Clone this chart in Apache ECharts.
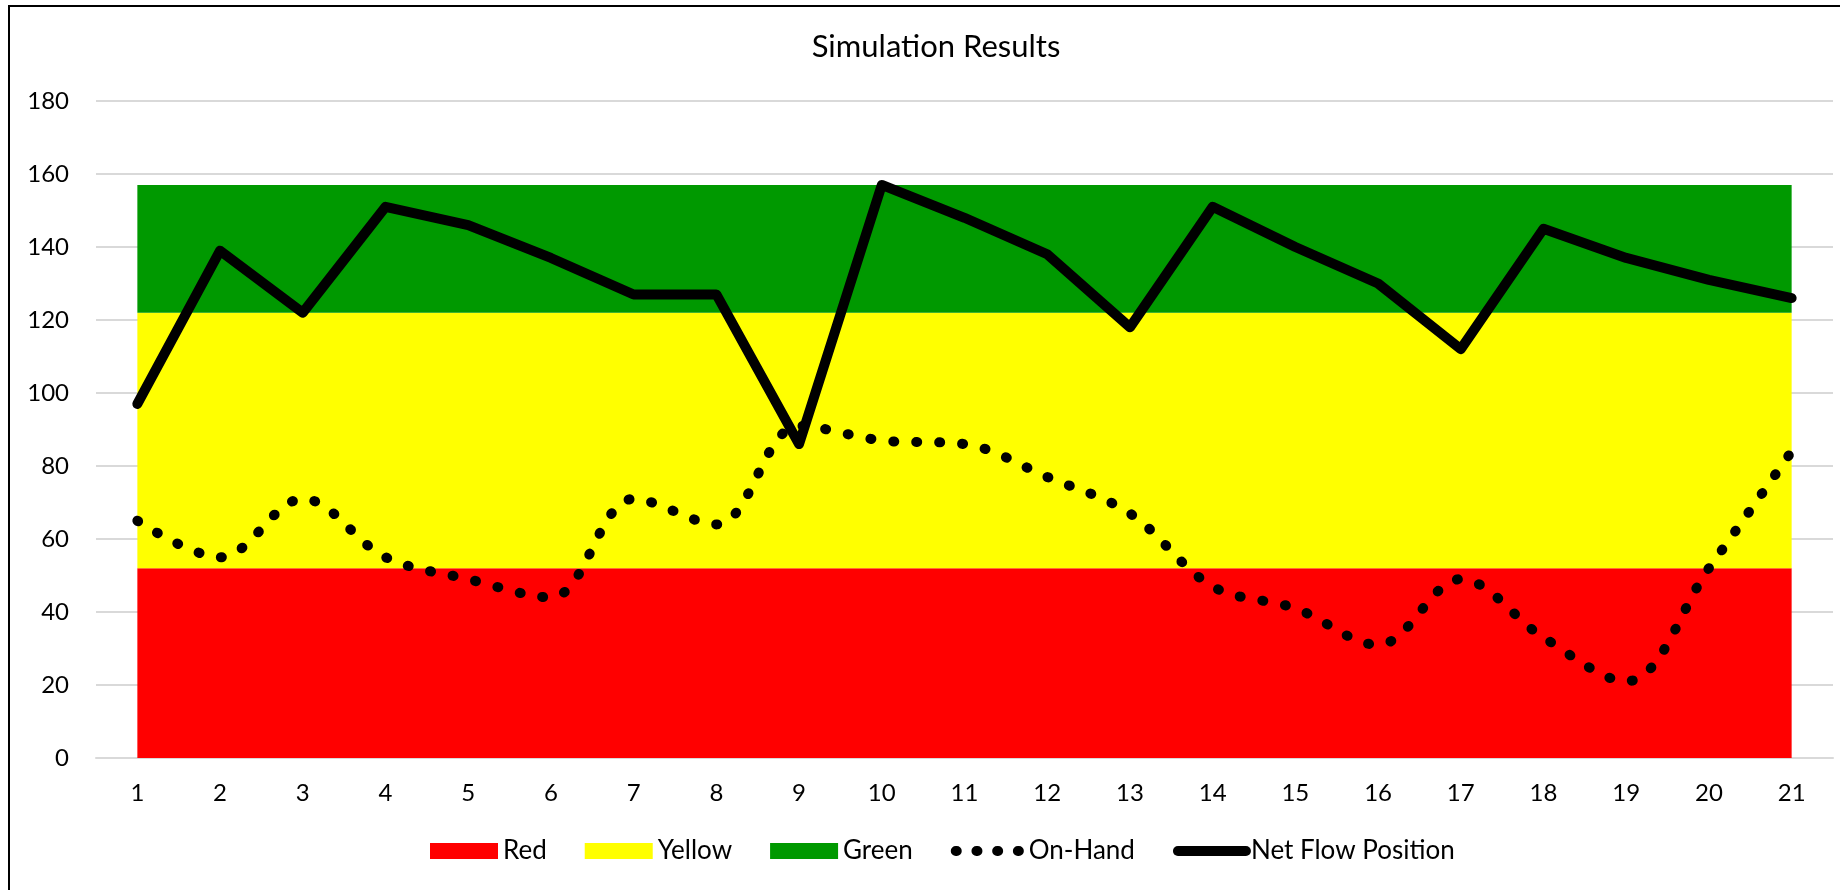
<!DOCTYPE html>
<html>
<head>
<meta charset="utf-8">
<script src="https://cdn.jsdelivr.net/npm/echarts@6/dist/echarts.min.js"></script>
<style>
  html, body { margin: 0; padding: 0; background: #fff; overflow: hidden; }
  #chart { width: 1840px; height: 890px; }
  /* chart area frame, runs off the right and bottom like the original */
  #frame {
    position: absolute; left: 8px; top: 5px; width: 2000px; height: 1000px;
    border-left: 2px solid #000; border-top: 2px solid #000; pointer-events: none;
  }
</style>
</head>
<body>
<div id="chart"></div>
<div id="frame"></div>
<script>
// periods
const periods = ['1','2','3','4','5','6','7','8','9','10','11','12','13','14','15','16','17','18','19','20','21'];
// buffer zones (stacked)
const red    = [52,52,52,52,52,52,52,52,52,52,52,52,52,52,52,52,52,52,52,52,52];
const yellow = [70,70,70,70,70,70,70,70,70,70,70,70,70,70,70,70,70,70,70,70,70];
const green  = [35,35,35,35,35,35,35,35,35,35,35,35,35,35,35,35,35,35,35,35,35];
// simulated values
const onHand  = [65,55,71,55,49,44,71,64,91,87,86,77,67,47,41,31,49,33,21,52,84];
const netFlow = [97,139,122,151,146,137,127,127,86,157,148,138,118,151,140,130,112,145,137,131,126];
// y ticks
const yMin = 0, yMax = 180, yStep = 20;

const font = 'Lato';
let chart = echarts.init(document.getElementById('chart'));

function band(name, data, color) {
  return {
    name: name, type: 'line', stack: 'zones', data: data,
    symbol: 'none', lineStyle: { width: 0, color: color },
    itemStyle: { color: color }, areaStyle: { color: color, opacity: 1 },
    z: 1
  };
}

chart.setOption({
  animation: false,
  // title placed as text so it can sit off-centre like the original
  graphic: [{
    type: 'text', x: 936, y: 47,
    style: {
      text: 'Simulation Results', fill: '#000',
      font: 'normal 31px Lato', align: 'center', verticalAlign: 'middle'
    }
  }],
  grid: { left: 96, right: 7, top: 101, bottom: 132 },
  legend: {
    left: 430, top: 838, padding: 0,
    itemWidth: 68, itemHeight: 16, itemGap: 38,
    textStyle: { fontFamily: font, fontSize: 26, color: '#000' },
    data: [
      { name: 'Red', icon: 'rect', itemStyle: { borderWidth: 0 } },
      { name: 'Yellow', icon: 'rect', itemStyle: { borderWidth: 0 } },
      { name: 'Green', icon: 'rect', itemStyle: { borderWidth: 0 } },
      { name: 'On-Hand',
        itemStyle: { color: 'rgba(0,0,0,0)', borderWidth: 0, opacity: 0 },
        lineStyle: { color: '#000', width: 10, type: [1, 19.7], cap: 'round' } },
      { name: 'Net Flow Position',
        itemStyle: { color: 'rgba(0,0,0,0)', borderWidth: 0, opacity: 0 },
        lineStyle: { color: '#000', width: 10, type: 'solid', cap: 'round' } }
    ]
  },
  xAxis: {
    type: 'category', data: periods, boundaryGap: true,
    axisLine: { lineStyle: { color: '#d9d9d9', width: 2 } },
    axisTick: { length: 8, lineStyle: { color: '#d9d9d9', width: 2 } },
    axisLabel: { margin: 23, fontFamily: font, fontSize: 24, color: '#000' }
  },
  yAxis: {
    type: 'value', min: yMin, max: yMax, interval: yStep,
    axisLine: { show: false }, axisTick: { show: false },
    splitLine: { lineStyle: { color: '#d9d9d9', width: 2 } },
    axisLabel: { margin: 27, fontFamily: font, fontSize: 24, color: '#000' }
  },
  series: [
    band('Red', red, '#ff0000'),
    band('Yellow', yellow, '#ffff00'),
    band('Green', green, '#009900'),
    {
      name: 'On-Hand', type: 'line', data: onHand, smooth: 0.35,
      symbol: 'none', itemStyle: { color: '#000' },
      lineStyle: { color: '#000', width: 10, type: [1, 22], cap: 'round' },
      z: 3
    },
    {
      name: 'Net Flow Position', type: 'line', data: netFlow,
      symbol: 'none', itemStyle: { color: '#000' },
      lineStyle: { color: '#000', width: 10, cap: 'round', join: 'round' },
      z: 4
    }
  ]
});
</script>
</body>
</html>
